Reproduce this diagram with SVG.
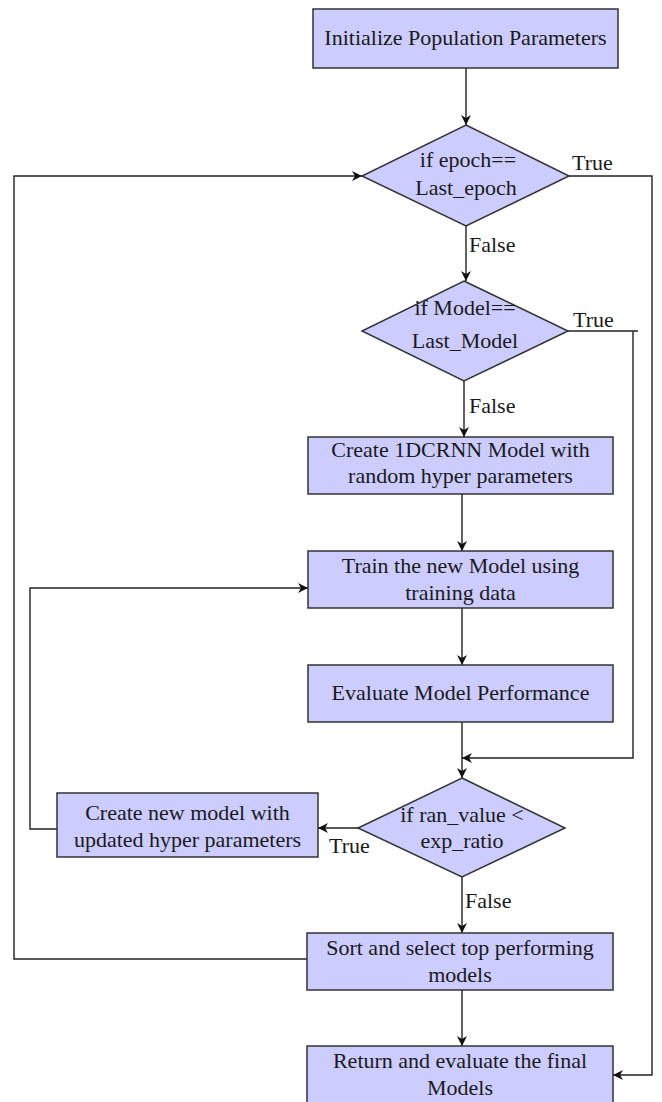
<svg xmlns="http://www.w3.org/2000/svg" width="662" height="1102" viewBox="0 0 662 1102">
  <style>
    .box { fill: #ccccff; stroke: #333333; stroke-width: 1.5; }
    .lbl { font-size: 22px; fill: #1a1a1a; text-anchor: middle; }
    .tag { font-size: 22px; fill: #1a1a1a; }
    .wire { fill: none; stroke: #222222; stroke-width: 1.4; }
  </style>
  <defs>
    <marker id="arrow" viewBox="0 0 10 10" refX="10" refY="5" markerWidth="10" markerHeight="10" markerUnits="userSpaceOnUse" orient="auto">
      <path d="M0,0 L10,5 L0,10 L3,5 Z" fill="#111111"/>
    </marker>
  </defs>
  <rect width="662" height="1102" fill="#ffffff"/>

  <g font-family="Liberation Serif, Times New Roman, DejaVu Serif, serif">
  <g id="connectors">
    <path class="wire" d="M466,68 V125" marker-end="url(#arrow)"/>
    <path class="wire" d="M466,226 V281" marker-end="url(#arrow)"/>
    <path class="wire" d="M569,176 H652 V1075 H613" marker-end="url(#arrow)"/>
    <path class="wire" d="M464,381 V437" marker-end="url(#arrow)"/>
    <path class="wire" d="M568,331 H638"/>
    <path class="wire" d="M633,331 V758 H462" marker-end="url(#arrow)"/>
    <path class="wire" d="M462,494 V551" marker-end="url(#arrow)"/>
    <path class="wire" d="M462,608 V665" marker-end="url(#arrow)"/>
    <path class="wire" d="M462,722 V778" marker-end="url(#arrow)"/>
    <path class="wire" d="M358,828 H318" marker-end="url(#arrow)"/>
    <path class="wire" d="M57,829 H30 V588 H308" marker-end="url(#arrow)"/>
    <path class="wire" d="M462,877 V933" marker-end="url(#arrow)"/>
    <path class="wire" d="M307,959 H14 V176 H362" marker-end="url(#arrow)"/>
    <path class="wire" d="M462,990 V1046" marker-end="url(#arrow)"/>
    <text class="tag" x="572" y="170">True</text>
    <text class="tag" x="469" y="252">False</text>
    <text class="tag" x="573" y="327">True</text>
    <text class="tag" x="469" y="413">False</text>
    <text class="tag" x="329" y="853">True</text>
    <text class="tag" x="465" y="908">False</text>
  </g>

  <g id="init">
    <rect class="box" x="313" y="9" width="305" height="59"/>
    <text class="lbl" x="465.5" y="45">Initialize Population Parameters</text>
  </g>

  <g id="epoch-check">
    <polygon class="box" points="466,125 569,176 466,226 362,176"/>
    <text class="lbl" x="468" y="167">if epoch==</text>
    <text class="lbl" x="466" y="195">Last_epoch</text>
  </g>

  <g id="model-check">
    <polygon class="box" points="464,281 568,331 464,381 362,331"/>
    <text class="lbl" x="465" y="315">if Model==</text>
    <text class="lbl" x="465" y="348">Last_Model</text>
  </g>

  <g id="create-model">
    <rect class="box" x="308" y="437" width="305" height="57"/>
    <text class="lbl" x="460.5" y="457">Create 1DCRNN Model with</text>
    <text class="lbl" x="460.5" y="483">random hyper parameters</text>
  </g>

  <g id="train">
    <rect class="box" x="308" y="551" width="305" height="57"/>
    <text class="lbl" x="460.5" y="573">Train the new Model using</text>
    <text class="lbl" x="460.5" y="600">training data</text>
  </g>

  <g id="evaluate">
    <rect class="box" x="308" y="665" width="305" height="57"/>
    <text class="lbl" x="460.5" y="700">Evaluate Model Performance</text>
  </g>

  <g id="ratio-check">
    <polygon class="box" points="462,778 565,828 462,877 358,828"/>
    <text class="lbl" x="462" y="822">if ran_value &lt;</text>
    <text class="lbl" x="462" y="848">exp_ratio</text>
  </g>

  <g id="update-model">
    <rect class="box" x="57" y="793" width="261" height="64"/>
    <text class="lbl" x="187.5" y="820">Create new model with</text>
    <text class="lbl" x="187.5" y="847">updated hyper parameters</text>
  </g>

  <g id="select">
    <rect class="box" x="307" y="933" width="306" height="57"/>
    <text class="lbl" x="460" y="955">Sort and select top performing</text>
    <text class="lbl" x="460" y="982">models</text>
  </g>

  <g id="final">
    <rect class="box" x="307" y="1046" width="306" height="64"/>
    <text class="lbl" x="460" y="1068">Return and evaluate the final</text>
    <text class="lbl" x="460" y="1095">Models</text>
  </g>
  </g>
</svg>
